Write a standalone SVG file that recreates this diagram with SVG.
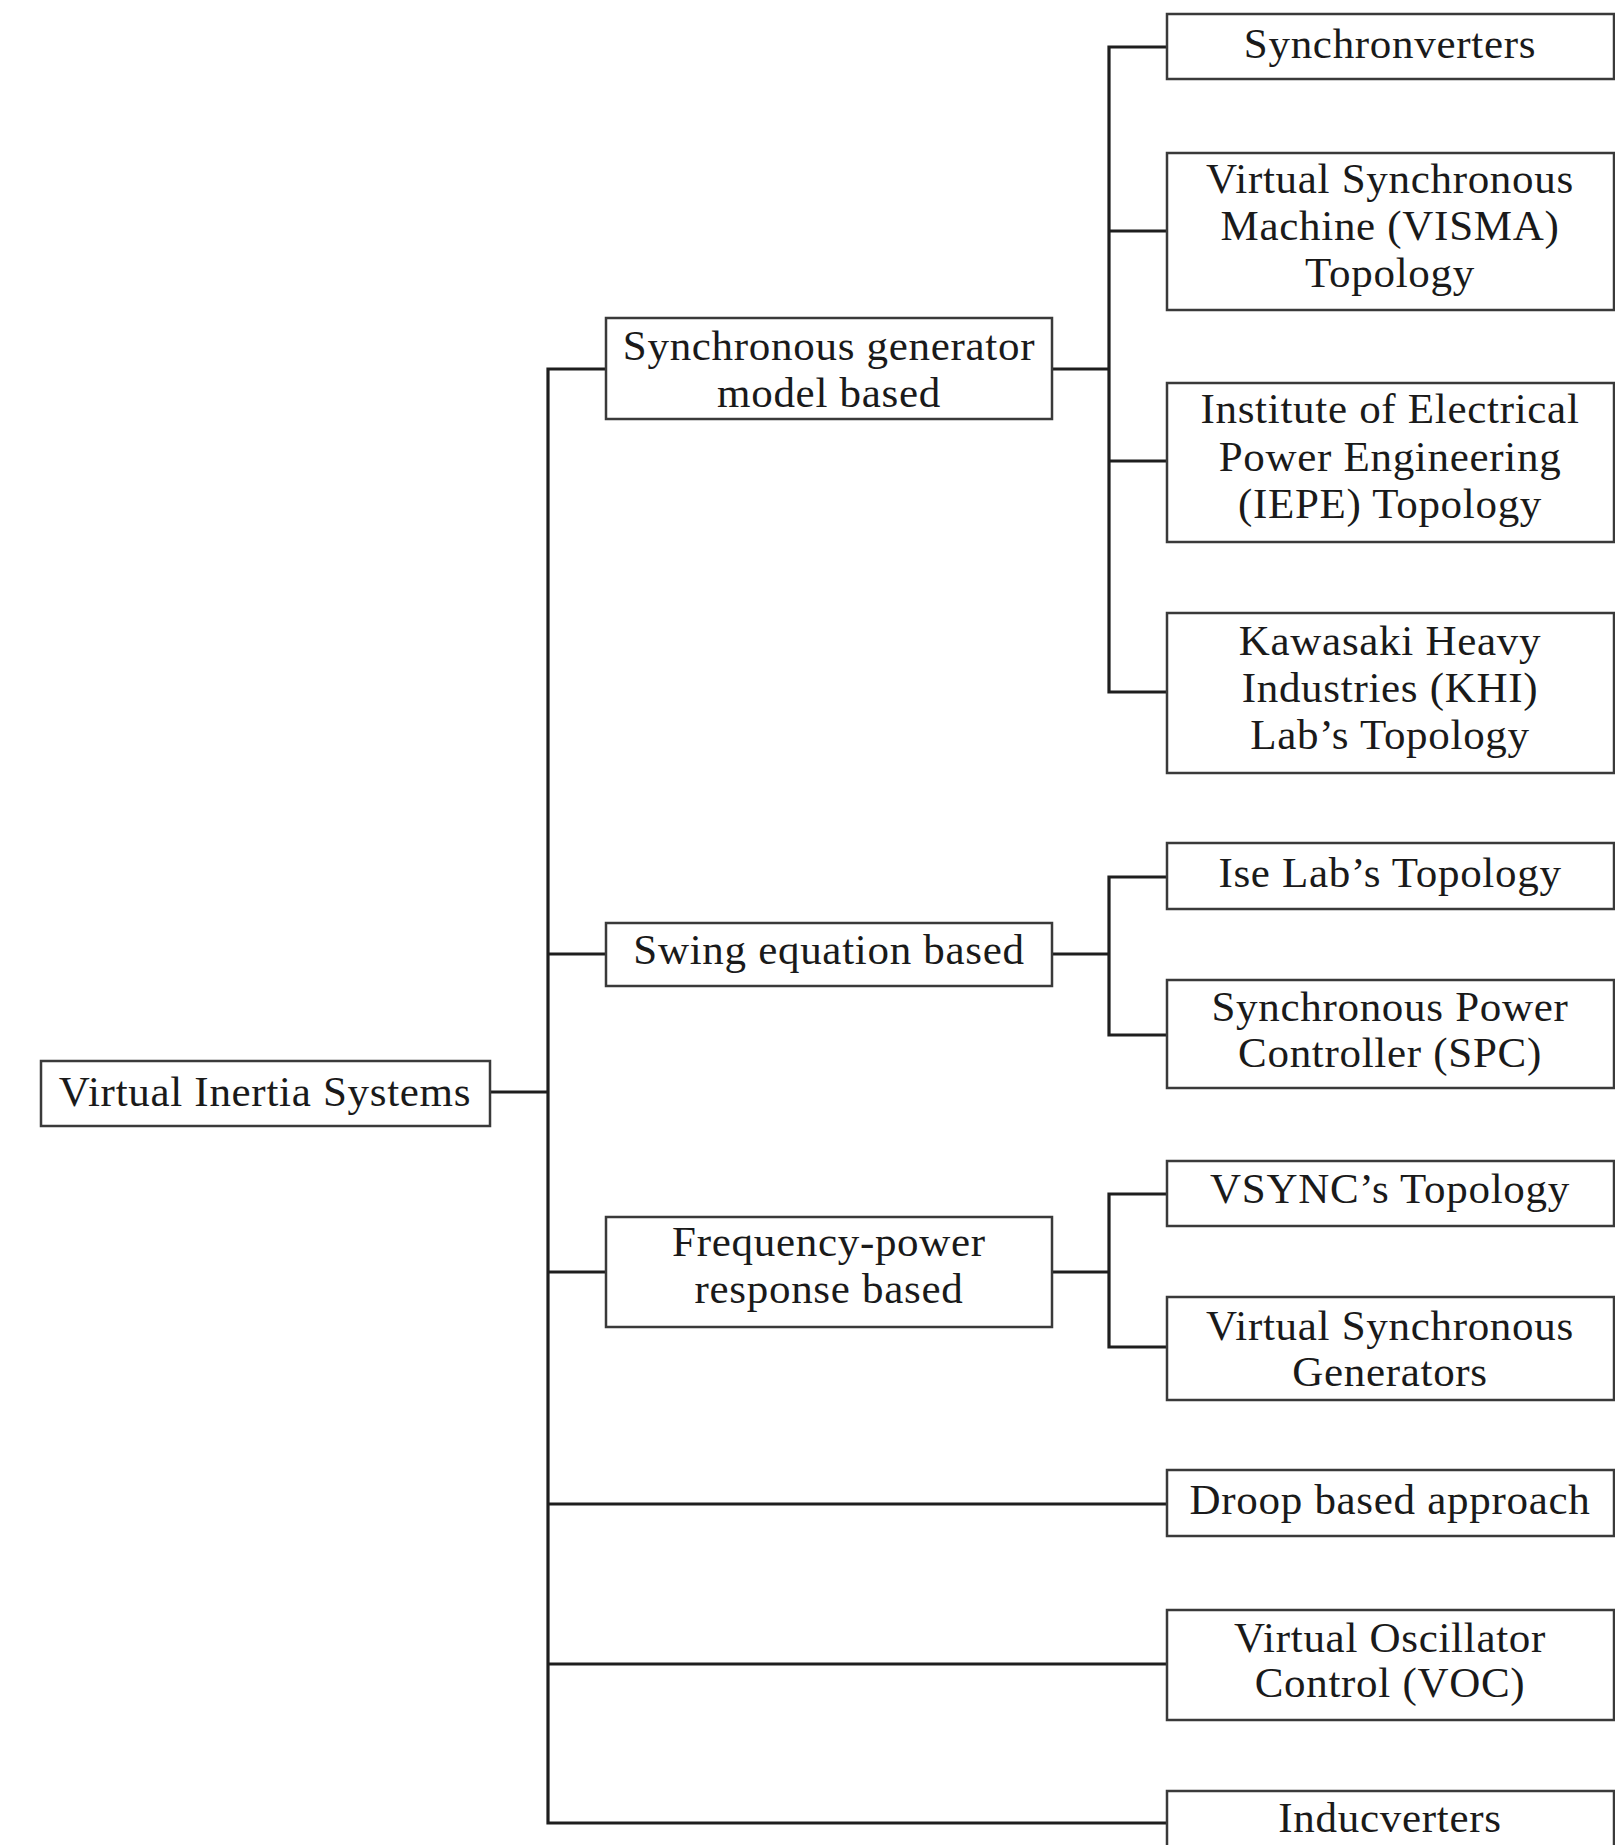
<svg xmlns="http://www.w3.org/2000/svg" width="1615" height="1845" viewBox="0 0 1615 1845">
<style>
.box{fill:#fff;stroke:#3a3a3a;stroke-width:2.5}
.lbl{font-family:"Liberation Serif","DejaVu Serif",serif;font-size:43px;letter-spacing:0.7px;fill:#1a1a1a;text-anchor:middle}
.con{fill:none;stroke:#1e1e1e;stroke-width:3.2;stroke-linecap:square;stroke-linejoin:miter}
</style>
<rect width="1615" height="1845" fill="#fff"/>
<g id="connectors">
<path class="con" d="M490 1092H548M548 369V1823M548 369H606M548 954H606M548 1272H606M548 1504H1167M548 1664H1167M548 1823H1167"/>
<path class="con" d="M1052 369H1109M1109 47V692M1109 47H1167M1109 231H1167M1109 461H1167M1109 692H1167"/>
<path class="con" d="M1052 954H1109M1109 877V1035M1109 877H1167M1109 1035H1167"/>
<path class="con" d="M1052 1272H1109M1109 1194V1347M1109 1194H1167M1109 1347H1167"/>
</g>
<g id="root"><rect class="box" x="41" y="1061" width="449" height="65"/><text class="lbl" x="265" y="1106">Virtual Inertia Systems</text></g>
<g id="sg"><rect class="box" x="606" y="318" width="446" height="101"/><text class="lbl" x="829" y="360">Synchronous generator</text><text class="lbl" x="829" y="407">model based</text></g>
<g id="swing"><rect class="box" x="606" y="923" width="446" height="63"/><text class="lbl" x="829" y="964">Swing equation based</text></g>
<g id="freq"><rect class="box" x="606" y="1217" width="446" height="110"/><text class="lbl" x="829" y="1256">Frequency-power</text><text class="lbl" x="829" y="1303">response based</text></g>
<g id="synchronverters"><rect class="box" x="1167" y="14" width="447" height="65"/><text class="lbl" x="1390" y="58">Synchronverters</text></g>
<g id="visma"><rect class="box" x="1167" y="153" width="447" height="157"/><text class="lbl" x="1390" y="193">Virtual Synchronous</text><text class="lbl" x="1390" y="240">Machine (VISMA)</text><text class="lbl" x="1390" y="287">Topology</text></g>
<g id="iepe"><rect class="box" x="1167" y="383" width="447" height="159"/><text class="lbl" x="1390" y="423">Institute of Electrical</text><text class="lbl" x="1390" y="471">Power Engineering</text><text class="lbl" x="1390" y="518">(IEPE) Topology</text></g>
<g id="khi"><rect class="box" x="1167" y="613" width="447" height="160"/><text class="lbl" x="1390" y="655">Kawasaki Heavy</text><text class="lbl" x="1390" y="702">Industries (KHI)</text><text class="lbl" x="1390" y="749">Lab’s Topology</text></g>
<g id="ise"><rect class="box" x="1167" y="843" width="447" height="66"/><text class="lbl" x="1390" y="887">Ise Lab’s Topology</text></g>
<g id="spc"><rect class="box" x="1167" y="980" width="447" height="108"/><text class="lbl" x="1390" y="1021">Synchronous Power</text><text class="lbl" x="1390" y="1067">Controller (SPC)</text></g>
<g id="vsync"><rect class="box" x="1167" y="1161" width="447" height="65"/><text class="lbl" x="1390" y="1203">VSYNC’s Topology</text></g>
<g id="vsg"><rect class="box" x="1167" y="1297" width="447" height="103"/><text class="lbl" x="1390" y="1340">Virtual Synchronous</text><text class="lbl" x="1390" y="1386">Generators</text></g>
<g id="droop"><rect class="box" x="1167" y="1470" width="447" height="66"/><text class="lbl" x="1390" y="1514">Droop based approach</text></g>
<g id="voc"><rect class="box" x="1167" y="1610" width="447" height="110"/><text class="lbl" x="1390" y="1652">Virtual Oscillator</text><text class="lbl" x="1390" y="1697">Control (VOC)</text></g>
<g id="inducverters"><rect class="box" x="1167" y="1791" width="447" height="56"/><text class="lbl" x="1390" y="1832">Inducverters</text></g>
</svg>
